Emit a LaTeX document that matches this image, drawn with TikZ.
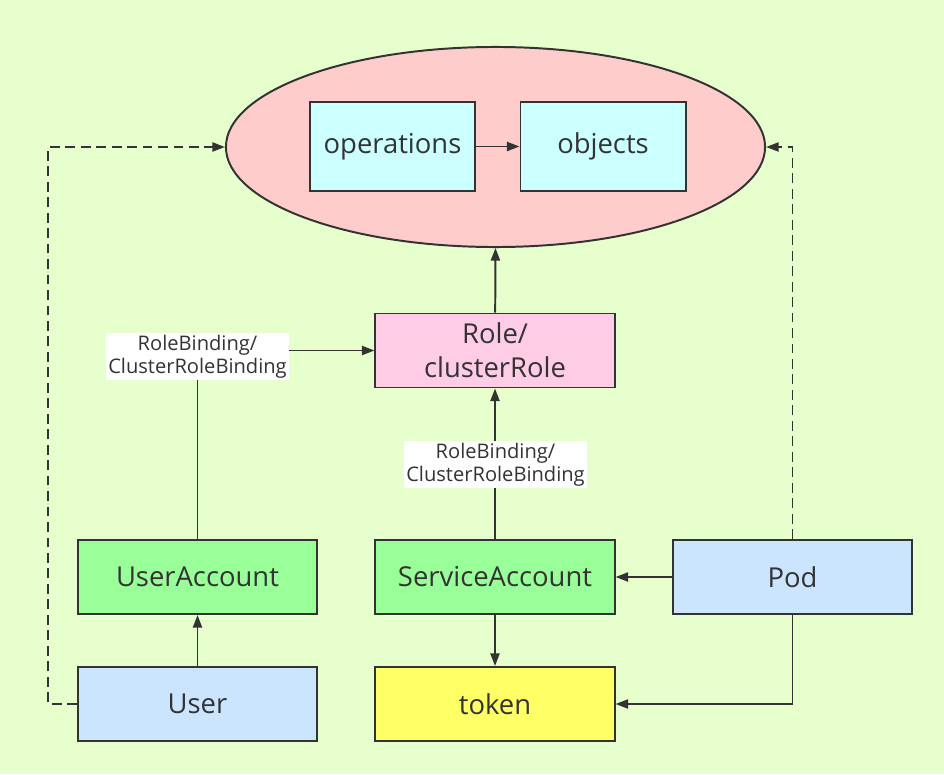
\documentclass[tikz,border=0pt]{standalone}
\usepackage{fontspec}
\setmainfont{Open Sans}
\usetikzlibrary{shapes.geometric,arrows.meta}
\definecolor{bgcol}{HTML}{E6FFCC}
\definecolor{linecol}{HTML}{333333}
\definecolor{redfill}{HTML}{FFCCCC}
\definecolor{cyanfill}{HTML}{CCFFFF}
\definecolor{pinkfill}{HTML}{FFCCE6}
\definecolor{greenfill}{HTML}{99FF99}
\definecolor{bluefill}{HTML}{CCE5FF}
\definecolor{yellowfill}{HTML}{FFFF66}
\tikzset{
  box/.style={draw=linecol, line width=1.4pt, text=linecol, font=\fontsize{19.5}{24}\selectfont,
    minimum width=5.975cm, minimum height=1.85cm, inner sep=0pt, align=center},
  smallbox/.style={box, minimum width=4.125cm, minimum height=2.225cm, fill=cyanfill},
  bindlabel/.style={fill=white, text=linecol, inner sep=1.5pt, align=center,
    font=\fontsize{14.3}{16.5}\selectfont},
  link/.style={->, draw=linecol, line width=1.4pt},
  dashlink/.style={link, dash pattern=on 7pt off 4pt},
}
\begin{document}
\begin{tikzpicture}[x=0.025cm, y=-0.025cm, >={Triangle[length=9pt,width=6.5pt]}]

\fill[bgcol] (0,0) rectangle (944,774);
\useasboundingbox (0,0) rectangle (944,774);

\node[ellipse, draw=linecol, line width=1.4pt, fill=redfill, minimum width=13.475cm,
  minimum height=5cm, inner sep=0pt] (perm) at (495.5,147) {};
\node[smallbox] (ops) at (392.5,146.5) {operations};
\node[smallbox] (objs) at (603,146.5) {objects};

\node[box, fill=pinkfill] (role) at (495,350.5) {Role/\\clusterRole};

\node[box, fill=greenfill] (ua) at (197.5,577) {UserAccount};
\node[box, fill=greenfill] (sa) at (495,577) {ServiceAccount};
\node[box, fill=bluefill] (pod) at (792.5,577) {Pod};
\node[box, fill=bluefill] (user) at (197.5,704) {User};
\node[box, fill=yellowfill] (token) at (495,704) {token};

\coordinate (ul) at (48,704);
\coordinate (pr) at (792.5,147);

% solid links
\draw[link] (ops) -- (objs);
\draw[link] (role) -- (perm.south);
\draw[link] (ua.north) |- (role.west);
\draw[link] (sa) -- (role);
\draw[link] (user) -- (ua);
\draw[link] (sa) -- (token);
\draw[link] (pod) -- (sa);
\draw[link] (pod.south) |- (token.east);

% dashed links
\draw[dashlink] (user.west) -- (ul) |- (perm.west);
\draw[dashlink] (pod.north) -- (pr) -- (perm.east);

% binding labels
\node[bindlabel] (bind1) at (197.5,356.5) {RoleBinding/\\ClusterRoleBinding};
\node[bindlabel] (bind2) at (495.5,464.5) {RoleBinding/\\ClusterRoleBinding};

\end{tikzpicture}
\end{document}
